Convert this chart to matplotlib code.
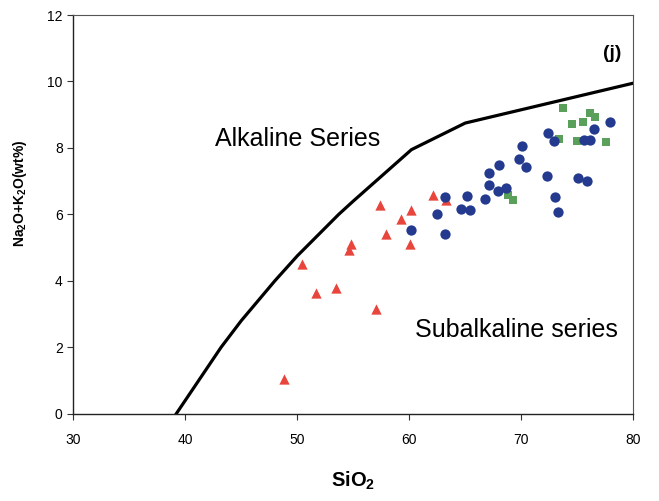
import matplotlib
matplotlib.use("Agg")
import matplotlib.pyplot as plt

plt.rcParams.update({
    "font.family": ["Liberation Sans", "DejaVu Sans"],
    "mathtext.fontset": "custom",
    "mathtext.rm": "Liberation Sans",
    "mathtext.bf": "Liberation Sans:bold",
})

# Irvine & Baragar alkaline / subalkaline boundary
boundary_x = [39.2, 43.2, 45.0, 48.0, 50.0, 53.7, 55.0, 60.2, 65.0, 80.0]
boundary_y = [0.0, 2.0, 2.8, 4.0, 4.75, 6.0, 6.4, 7.95, 8.75, 9.95]

# red triangles
tri_x = [48.8, 50.4, 51.7, 53.5, 54.8, 54.6, 57.0, 57.4, 57.9, 59.3, 60.2, 60.1, 62.1, 63.3]
tri_y = [1.04, 4.5, 3.63, 3.8, 5.11, 4.93, 3.15, 6.29, 5.4, 5.86, 6.13, 5.11, 6.57, 6.44]

# blue circles
cir_x = [63.2, 62.5, 60.2, 63.2, 65.2, 64.6, 65.4, 66.8, 67.1, 68.0, 67.1, 67.9, 68.6,
         69.8, 70.1, 70.4, 72.3, 73.0, 73.3, 72.4, 72.9, 75.6, 76.1, 76.5, 77.9, 75.1, 75.9]
cir_y = [6.52, 6.02, 5.53, 5.42, 6.55, 6.16, 6.14, 6.47, 7.26, 7.49, 6.9, 6.72, 6.79,
         7.66, 8.06, 7.44, 7.16, 6.52, 6.08, 8.44, 8.22, 8.24, 8.24, 8.56, 8.77, 7.11, 7.0]

# green squares
sq_x = [68.8, 69.3, 73.4, 73.7, 74.5, 75.5, 76.1, 76.6, 75.0, 77.6]
sq_y = [6.59, 6.44, 8.28, 9.21, 8.72, 8.79, 9.04, 8.92, 8.22, 8.19]

fig = plt.figure(figsize=(6.59, 5.01), dpi=100)
ax = fig.add_axes([0.111, 0.174, 0.850, 0.796])

ax.plot(boundary_x, boundary_y, color="black", linewidth=2.3, zorder=2)
ax.scatter(tri_x, tri_y, marker="^", s=55, color="#e8453c", linewidths=0, zorder=3)
ax.scatter(cir_x, cir_y, marker="o", s=55, color="#233a8e", linewidths=0, zorder=4)
ax.scatter(sq_x, sq_y, marker="s", s=40, color="#5aa05a", linewidths=0, zorder=3)

ax.text(50.0, 8.06, "Alkaline Series", fontsize=18, ha="center", va="baseline")
ax.text(69.6, 2.32, "Subalkaline series", fontsize=18, ha="center", va="baseline")
ax.text(78.1, 10.83, "(j)", fontsize=14, fontweight="bold", ha="center", va="center")

ax.set_xlim(30, 80)
ax.set_ylim(0, 12)
ax.set_xticks([30, 40, 50, 60, 70, 80])
ax.set_yticks([0, 2, 4, 6, 8, 10, 12])
ax.tick_params(direction="out", length=4, width=0.8, labelsize=10, color="#333333")
ax.tick_params(axis="x", pad=10)

for side in ["top", "right"]:
    ax.spines[side].set_color("#555555")
    ax.spines[side].set_linewidth(0.8)
for side in ["left", "bottom"]:
    ax.spines[side].set_color("#222222")
    ax.spines[side].set_linewidth(1.0)

ax.set_xlabel(r"$\mathbf{SiO_2}$", fontsize=14.5, labelpad=16)
ax.set_ylabel(r"$\mathbf{Na_2O{+}K_2O(wt\%)}$", fontsize=10)
ax.yaxis.set_label_coords(-0.078, 0.554)

fig.savefig("out.png", dpi=100)
